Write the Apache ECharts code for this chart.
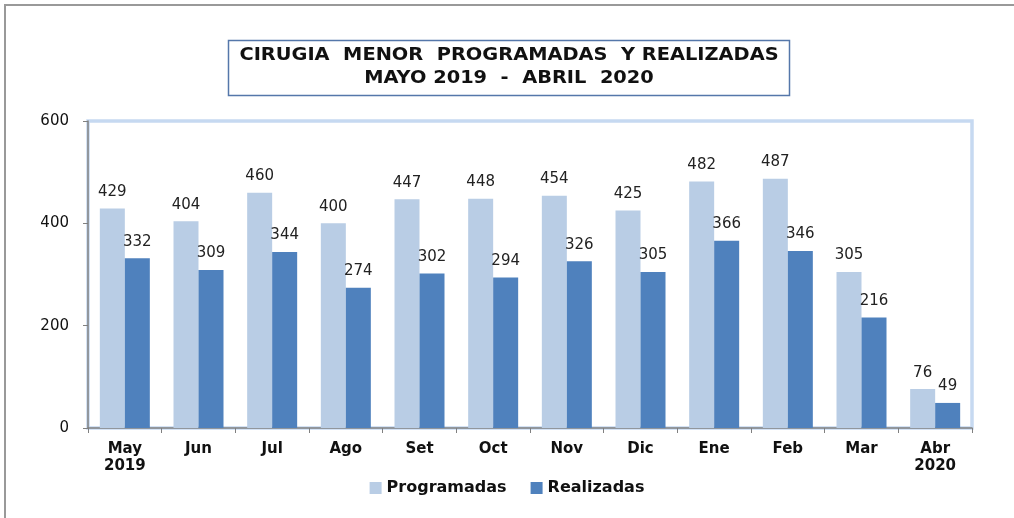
<!DOCTYPE html>
<html>
<head>
<meta charset="utf-8">
<script src="https://cdn.jsdelivr.net/npm/echarts@6/dist/echarts.min.js"></script>
<style>
	html,body{margin:0;padding:0;background:#fff;}
	#chart{width:1014px;height:518px;}
</style>
</head>
<body>
<div id="chart"></div>
<script>
// datos del grafico
var meses = ['May\n2019', 'Jun', 'Jul', 'Ago', 'Set', 'Oct', 'Nov', 'Dic', 'Ene', 'Feb', 'Mar', 'Abr\n2020'];
var programadas = [429, 404, 460, 400, 447, 448, 454, 425, 482, 487, 305, 76];
var realizadas = [332, 309, 344, 274, 302, 294, 326, 305, 366, 346, 216, 49];
var yTicks = [0, 200, 400, 600];
var titulo = 'CIRUGIA  MENOR  PROGRAMADAS  Y REALIZADAS\nMAYO 2019  -  ABRIL  2020';

var numFont = '"DejaVu Sans", Verdana, sans-serif';

var myChart = echarts.init(document.getElementById('chart'));

function serie(nombre, datos, color){
	return {
		name: nombre,
		type: 'bar',
		data: datos,
		barWidth: 25,
		barGap: '0%',
		itemStyle: {color: color},
		label: {
			show: true,
			position: 'top',
			distance: 9,
			color: '#222',
			fontSize: 15,
			fontFamily: numFont
		}
	};
}

var option = {
	animation: false,
	legend: {
		bottom: 17,
		left: 'center',
		itemWidth: 12,
		itemHeight: 12,
		itemGap: 24,
		icon: 'rect',
		textStyle: {fontSize: 16, fontWeight: 'bold', fontFamily: numFont, color: '#111'},
		data: ['Programadas', 'Realizadas']
	},
	grid: {
		left: 88,
		right: 42,
		top: 121,
		bottom: 90,
		show: true,
		borderColor: '#c6d9f1',
		borderWidth: 3.5
	},
	xAxis: {
		type: 'category',
		data: meses,
		axisLine: {lineStyle: {color: '#808080', width: 1.5}},
		axisTick: {show: true, length: 5, lineStyle: {color: '#808080'}},
		axisLabel: {
			margin: 13,
			fontSize: 15,
			fontWeight: 'bold',
			fontFamily: numFont,
			color: '#111',
			lineHeight: 17
		}
	},
	yAxis: {
		type: 'value',
		min: yTicks[0],
		max: yTicks[yTicks.length - 1],
		interval: 200,
		axisLine: {show: true, lineStyle: {color: '#808080', width: 1.5}},
		axisTick: {show: true, length: 5, lineStyle: {color: '#808080'}},
		splitLine: {show: false},
		axisLabel: {
			margin: 19,
			fontSize: 15,
			fontFamily: numFont,
			color: '#111'
		}
	},
	graphic: [
		//borde exterior
		{type: 'polyline', shape: {points: [[5, 530], [5, 5], [1030, 5]]},
			style: {stroke: '#999', lineWidth: 2, fill: null}, silent: true},
		//caja del titulo
		{type: 'rect', shape: {x: 228.5, y: 40.5, width: 561, height: 55},
			style: {stroke: '#5577aa', lineWidth: 1.5, fill: '#fff'}, silent: true},
		{type: 'text', x: 509, y: 67.5, scaleX: 1.14,
			style: {text: titulo, font: 'bold 17px "DejaVu Sans", Verdana, sans-serif', fill: '#111',
				align: 'center', verticalAlign: 'middle', lineHeight: 23}, silent: true}
	],
	series: [
		serie('Programadas', programadas, '#b9cde5'),
		serie('Realizadas', realizadas, '#4f81bd')
	]
};

myChart.setOption(option);
</script>
</body>
</html>
